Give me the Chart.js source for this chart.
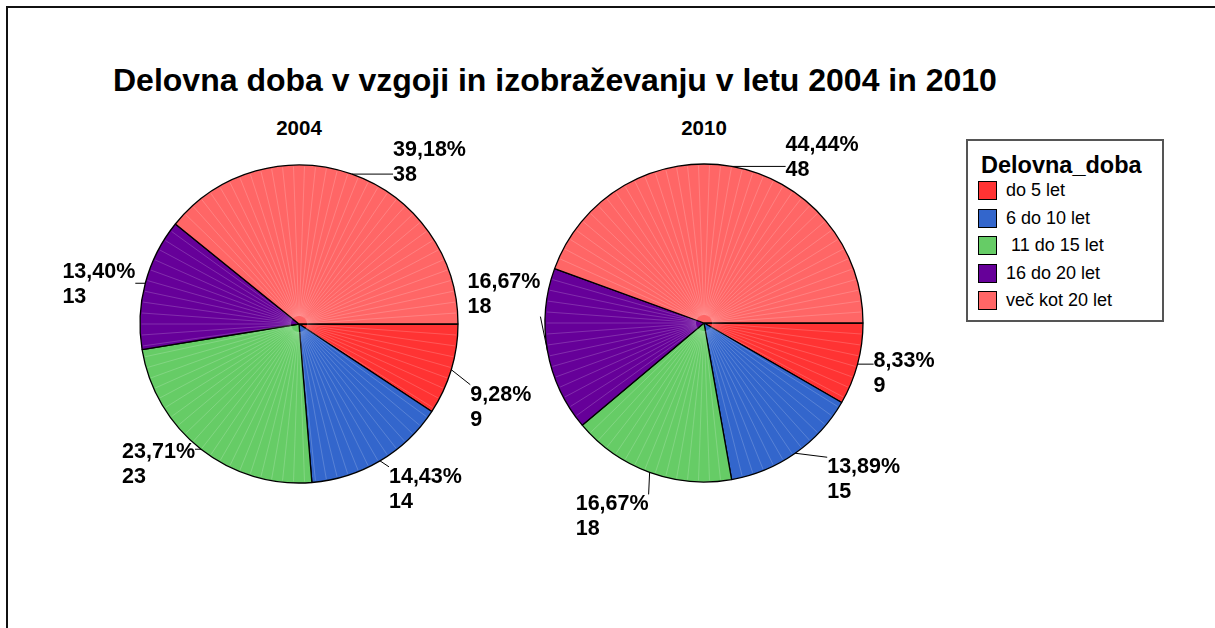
<!DOCTYPE html>
<html>
<head>
<meta charset="utf-8">
<script src="https://cdn.jsdelivr.net/npm/chart.js@4/dist/chart.umd.min.js"></script>
<style>
body{margin:0;background:#fff;width:1215px;height:628px;overflow:hidden;position:relative;font-family:Arial,"Liberation Sans",sans-serif;}
#frame{position:absolute;left:6px;top:6px;width:1300px;height:700px;border-top:2px solid #111;border-left:2px solid #111;}
#title{position:absolute;left:113px;top:64px;font-size:32px;line-height:32px;font-weight:bold;white-space:nowrap;}
.sub{position:absolute;width:200px;text-align:center;font-size:20.5px;line-height:20px;font-weight:bold;top:118px;}
canvas{position:absolute;}
#legend{position:absolute;left:966px;top:139px;width:194px;height:179px;border:2px solid #555;}
#legend .lt{position:absolute;left:13px;top:13px;font-size:23.5px;line-height:23px;font-weight:bold;white-space:nowrap;}
#legend .row{position:absolute;left:10px;height:27px;display:flex;align-items:center;font-size:18px;white-space:pre;}
#legend .sw{width:17px;height:17px;border:1.5px solid #000;margin-right:9px;}
</style>
</head>
<body>
<div id="frame"></div>
<div id="title">Delovna doba v vzgoji in izobraževanju v letu 2004 in 2010</div>
<div class="sub" id="sub0" style="left:199px"></div>
<div class="sub" id="sub1" style="left:604px"></div>
<canvas id="pie2004" width="500" height="460" style="left:49px;top:94px"></canvas>
<canvas id="pie2010" width="500" height="460" style="left:454px;top:93px"></canvas>
<div id="legend"><div class="lt">Delovna_doba</div></div>
<script>
const categories=['do 5 let','6 do 10 let',' 11 do 15 let','16 do 20 let','več kot 20 let'];
const years=['2004','2010'];
const values2004=[9,14,23,13,38];
const values2010=[9,15,18,18,48];
const colors=['#FF3333','#3366CC','#66CC66','#660099','#FF6666'];

// label offsets from the arc edge (x to near side of text, y to first line centre)
const offsets2004=[[19,25],[9,16],[-6,3],[-10,-11],[41,-24]];
const offsets2010=[[16,-3],[32,14],[-1,32],[-7,-69],[54,-21]];

document.getElementById('sub0').textContent=years[0];
document.getElementById('sub1').textContent=years[1];

const legend=document.getElementById('legend');
categories.forEach((c,i)=>{
const row=document.createElement('div');
row.className='row';
row.style.top=(36+i*27.5)+'px';
row.innerHTML='<div class="sw" style="background:'+colors[i]+'"></div><span></span>';
row.querySelector('span').textContent=c;
legend.appendChild(row);
});

const stripes={
id:'stripes',
afterDatasetsDraw(chart){
const ctx=chart.ctx;
const meta=chart.getDatasetMeta(0);
const step=Math.PI/45;
ctx.save();
ctx.strokeStyle='rgba(255,255,255,0.3)';
ctx.lineWidth=0.6;
meta.data.forEach(arc=>{
const p=arc.getProps(['x','y','startAngle','endAngle','outerRadius']);
let a=Math.ceil((p.startAngle+0.02)/step)*step;
for(;a<p.endAngle-0.02;a+=step){
ctx.beginPath();
ctx.moveTo(p.x+8*Math.cos(a),p.y+8*Math.sin(a));
ctx.lineTo(p.x+(p.outerRadius-1.5)*Math.cos(a),p.y+(p.outerRadius-1.5)*Math.sin(a));
ctx.stroke();
}
});
ctx.restore();
}
};

const outLabels={
id:'outLabels',
afterDraw(chart,args,opts){
const ctx=chart.ctx;
const meta=chart.getDatasetMeta(0);
const data=chart.data.datasets[0].data;
const sum=data.reduce((a,b)=>a+b,0);
ctx.save();
ctx.font='bold 21.5px Arial, "Liberation Sans", sans-serif';
ctx.textBaseline='middle';
ctx.fillStyle='#000';
ctx.strokeStyle='#000';
ctx.lineWidth=1;
meta.data.forEach((arc,i)=>{
const p=arc.getProps(['x','y','startAngle','endAngle','outerRadius']);
const mid=(p.startAngle+p.endAngle)/2;
const ex=p.x+p.outerRadius*Math.cos(mid);
const ey=p.y+p.outerRadius*Math.sin(mid);
const l1=(data[i]/sum*100).toFixed(2).replace('.',',')+'%';
const l2=String(data[i]);
const w=Math.max(ctx.measureText(l1).width,ctx.measureText(l2).width);
const off=opts.offsets[i];
const left=Math.cos(mid)<0;
const x0=left?ex+off[0]-w:ex+off[0];
const y0=ey+off[1];
const bx1=x0,bx2=x0+w,by1=y0-10,by2=y0+35;
const nx=Math.min(Math.max(ex,bx1),bx2);
const ny=Math.min(Math.max(ey,by1),by2);
ctx.beginPath();
ctx.moveTo(ex,ey);
ctx.lineTo(nx,ny);
ctx.stroke();
ctx.textAlign='left';
ctx.fillText(l1,x0,y0);
ctx.fillText(l2,x0,y0+25);
});
ctx.restore();
}
};

function makePie(id,values,offsets){
return new Chart(document.getElementById(id),{
type:'pie',
data:{
labels:categories,
datasets:[{
data:values,
backgroundColor:colors,
borderColor:'#000',
borderWidth:1.3,
radius:159
}]
},
options:{
responsive:false,
animation:false,
rotation:90,
layout:{padding:0},
plugins:{
legend:{display:false},
tooltip:{enabled:false},
outLabels:{offsets:offsets}
}
},
plugins:[stripes,outLabels]
});
}

makePie('pie2004',values2004,offsets2004);
makePie('pie2010',values2010,offsets2010);
</script>
</body>
</html>
